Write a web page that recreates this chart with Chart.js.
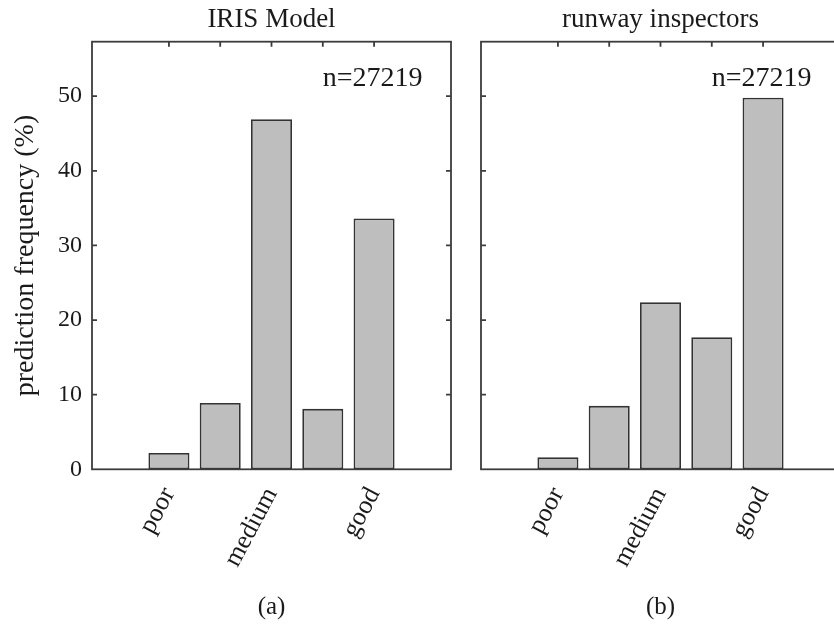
<!DOCTYPE html>
<html>
<head>
<meta charset="utf-8">
<script src="https://cdn.jsdelivr.net/npm/chart.js@4.4.1/dist/chart.umd.min.js"></script>
<style>
  body { margin: 0; background: #fff; overflow: hidden; width: 834px; height: 625px; position: relative; }
  .panel { position: absolute; top: 0; }
</style>
</head>
<body>
<div class="panel" style="left:0px"><canvas id="chartA" width="466" height="625"></canvas></div>
<div class="panel" style="left:466px"><canvas id="chartB" width="380" height="625"></canvas></div>
<script>
// datos
const binPos = [1, 2, 3, 4, 5];
const irisModel = [2.2, 8.9, 46.9, 8.1, 33.6];
const inspectors = [1.6, 8.5, 22.4, 17.7, 49.8];
const tickLabels = ['poor', 'medium', 'good'];
const labelPos = [1, 3, 5];
const yTicks = [0, 10, 20, 30, 40, 50];
const sampleText = 'n=27219';

const serif = 'Liberation Serif';
const inkColor = '#1a1a1a';
const lineColor = '#3c3c3c';

// marco con marcas hacia dentro, estilo MATLAB
const framePlugin = {
    id: 'frame',
    afterDraw(chart, args, opts) {
        const { ctx, chartArea: a, scales } = chart;
        ctx.save();
        ctx.strokeStyle = lineColor;
        ctx.lineWidth = 1.8;
        ctx.strokeRect(a.left, a.top, a.right - a.left, a.bottom - a.top);
        ctx.beginPath();
        yTicks.slice(1).forEach(v => {
            const py = scales.y.getPixelForValue(v);
            ctx.moveTo(a.left, py); ctx.lineTo(a.left + 5, py);
            ctx.moveTo(a.right, py); ctx.lineTo(a.right - 5, py);
        });
        binPos.forEach(v => {
            const px = scales.x.getPixelForValue(v);
            ctx.moveTo(px, a.top); ctx.lineTo(px, a.top + 5);
        });
        ctx.stroke();
        // texto n=
        ctx.fillStyle = inkColor;
        ctx.font = '28px "' + serif + '"';
        ctx.textAlign = 'left';
        ctx.textBaseline = 'alphabetic';
        ctx.fillText(opts.note, scales.x.getPixelForValue(opts.noteX), scales.y.getPixelForValue(opts.noteY));
        ctx.restore();
    }
};

function makePanel(canvasId, values, title, subLabel, showY, yWidth, padRight) {
    return new Chart(document.getElementById(canvasId), {
        type: 'bar',
        data: {
            datasets: [{
                data: binPos.map((x, i) => ({ x: x, y: values[i] })),
                backgroundColor: '#bebebe',
                borderColor: '#333333',
                borderWidth: 1.8,
                borderSkipped: false,
                barPercentage: 1,
                categoryPercentage: 0.8
            }]
        },
        options: {
            responsive: false,
            animation: false,
            layout: { padding: { left: 0, right: padRight, top: 0, bottom: 0 } },
            plugins: {
                legend: { display: false },
                tooltip: { enabled: false },
                frame: { note: sampleText, noteX: 4.0, noteY: 51.3 }
            },
            scales: {
                x: {
                    type: 'linear',
                    position: 'bottom',
                    min: -0.5,
                    max: 6.5,
                    offset: false,
                    grid: { display: false, drawTicks: false },
                    border: { display: false },
                    afterBuildTicks: s => { s.ticks = labelPos.map(v => ({ value: v })); },
                    ticks: {
                        autoSkip: false,
                        minRotation: 62,
                        maxRotation: 62,
                        padding: 13,
                        color: inkColor,
                        font: { family: serif, size: 26 },
                        callback: (v, i) => tickLabels[i]
                    },
                    title: {
                        display: true,
                        text: subLabel,
                        color: inkColor,
                        font: { family: serif, size: 25 },
                        padding: { top: 0, bottom: 3 }
                    },
                    afterFit: s => { s.height = 155.7; }
                },
                top: {
                    type: 'linear',
                    position: 'top',
                    min: -0.5,
                    max: 6.5,
                    grid: { display: false, drawTicks: false },
                    border: { display: false },
                    ticks: { display: false },
                    title: {
                        display: true,
                        text: title,
                        color: inkColor,
                        font: { family: serif, size: 27 },
                        padding: { top: 4, bottom: 0 }
                    },
                    afterFit: s => { s.height = 41.7; }
                },
                y: {
                    min: 0,
                    max: 57.3,
                    afterBuildTicks: s => { s.ticks = yTicks.map(v => ({ value: v })); },
                    grid: { display: false, drawTicks: false },
                    border: { display: false },
                    ticks: {
                        display: showY,
                        padding: 10,
                        color: inkColor,
                        font: { family: serif, size: 24 }
                    },
                    title: {
                        display: showY,
                        text: 'prediction frequency (%)',
                        color: inkColor,
                        font: { family: serif, size: 28 },
                        padding: { top: 9, bottom: 0 }
                    },
                    afterFit: s => { s.width = yWidth; }
                }
            }
        },
        plugins: [framePlugin]
    });
}

let chartA = makePanel('chartA', irisModel, 'IRIS Model', '(a)', true, 92, 15);
let chartB = makePanel('chartB', inspectors, 'runway inspectors', '(b)', false, 15, 6);
</script>
</body>
</html>
